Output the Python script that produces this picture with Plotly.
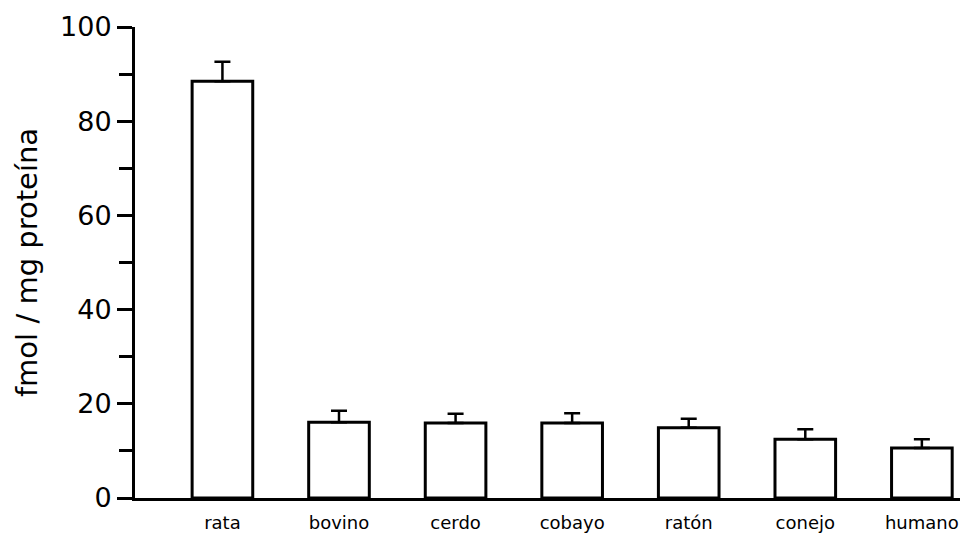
import plotly.graph_objects as go

categories = ["rata", "bovino", "cerdo", "cobayo", "ratón", "conejo", "humano"]
values = [88.5, 16.1, 15.9, 15.9, 14.9, 12.5, 10.6]
errors = [4.1, 2.4, 2.0, 2.1, 1.9, 2.1, 1.9]
y_ticks = [0, 20, 40, 60, 80, 100]

fig = go.Figure()
fig.add_trace(go.Bar(
    x=list(range(len(categories))),
    y=values,
    width=0.52,
    marker=dict(color="white", line=dict(color="black", width=3)),
    error_y=dict(type="data", symmetric=False, array=errors,
                 arrayminus=[0] * len(errors), color="black",
                 thickness=2.5, width=8),
))

fig.update_layout(
    width=960, height=527,
    margin=dict(l=127, r=3, t=19, b=37, pad=0),
    paper_bgcolor="white", plot_bgcolor="white",
    showlegend=False,
    font=dict(family="DejaVu Sans", color="black"),
)
fig.update_xaxes(
    range=[-0.75, 6.37], automargin=False,
    tickmode="array", tickvals=list(range(len(categories))), ticktext=categories,
    showline=True, linecolor="black", linewidth=3,
    ticks="", showgrid=False, zeroline=False,
    ticklabelstandoff=6,
    tickfont=dict(size=18, color="black"),
)
fig.update_yaxes(
    range=[0, 100], automargin=False,
    tickmode="array", tickvals=y_ticks, ticktext=[str(v) for v in y_ticks],
    showline=True, linecolor="black", linewidth=3,
    ticks="outside", ticklen=15, tickwidth=3, tickcolor="black",
    minor=dict(tickvals=[10, 30, 50, 70, 90], ticks="outside", ticklen=13,
               tickwidth=3, tickcolor="black"),
    showgrid=False, zeroline=False,
    tickfont=dict(size=27, color="black"),
    title=dict(text="fmol / mg proteína", font=dict(size=29, color="black"), standoff=14),
)
fig.write_html("out.html")
